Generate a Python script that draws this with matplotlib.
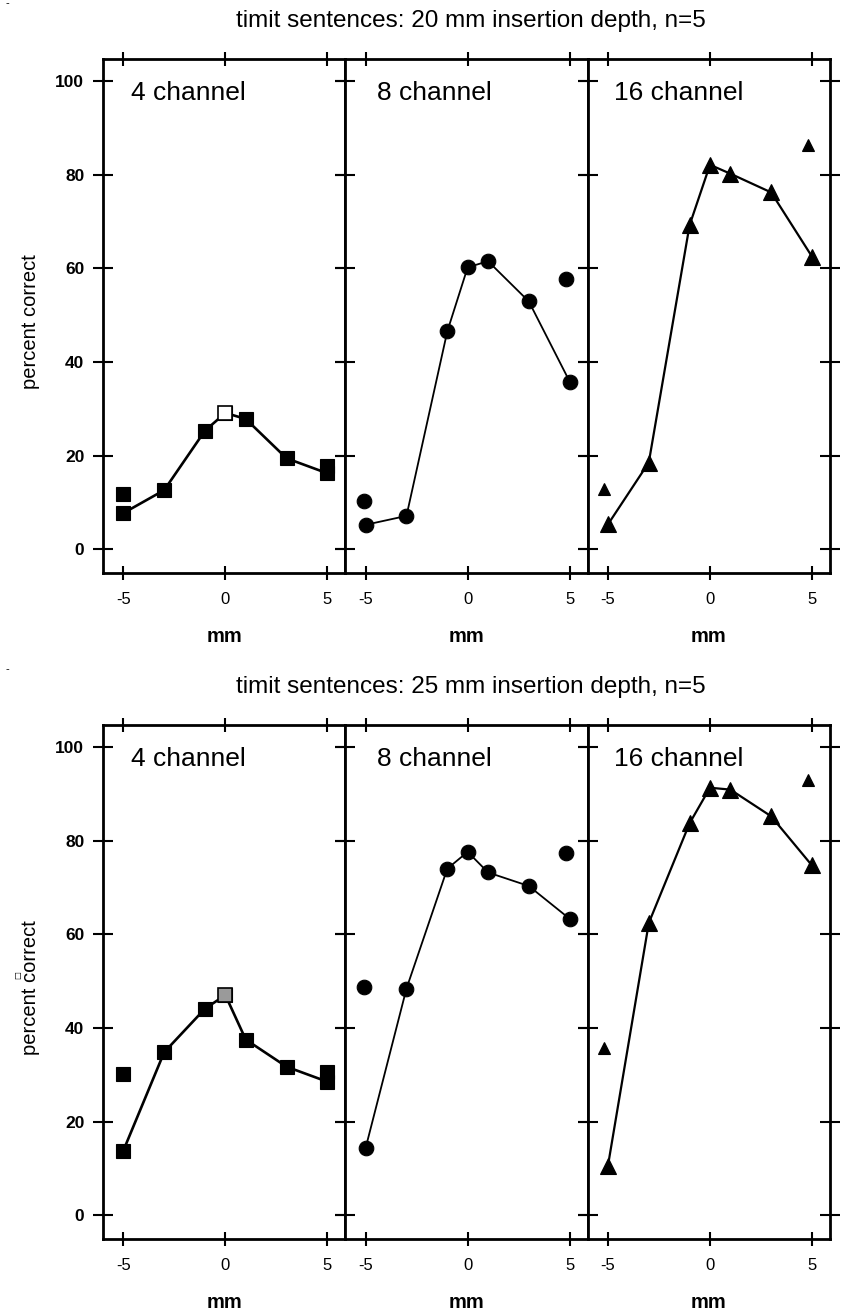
import matplotlib
matplotlib.use("Agg")
import matplotlib.pyplot as plt

plt.rcParams["font.family"] = ["Liberation Sans", "DejaVu Sans"]
plt.rcParams["axes.unicode_minus"] = False

channels = ["4 channel", "8 channel", "16 channel"]
shift_mm = [-5, -3, -1, 0, 1, 3, 5]

# timit sentences, 20 mm insertion depth (connected points)
d20_4ch = [7.7, 12.6, 25.3, 29.1, 27.8, 19.4, 16.2]
d20_8ch = [5.2, 7.1, 46.5, 60.2, 61.5, 52.9, 35.8]
d20_16ch = [5.3, 18.5, 69.2, 82.1, 80.2, 76.2, 62.5]
# unconnected points near the ends
d20_extra_x = [[-5.0, 5.0], [-5.1, 4.8], [-5.2, 4.8]]
d20_extra_y = [[11.8, 17.7], [10.3, 57.7], [12.9, 86.3]]

# timit sentences, 25 mm insertion depth
d25_4ch = [13.8, 34.8, 44.1, 47.0, 37.5, 31.7, 28.5]
d25_8ch = [14.4, 48.4, 74.0, 77.6, 73.2, 70.3, 63.3]
d25_16ch = [10.6, 62.4, 83.7, 91.3, 90.9, 85.2, 74.7]
d25_extra_x = [[-5.0, 5.0], [-5.1, 4.8], [-5.2, 4.8]]
d25_extra_y = [[30.2, 30.6], [48.8, 77.4], [35.6, 93.0]]

titles = ["timit sentences: 20 mm insertion depth, n=5",
          "timit sentences: 25 mm insertion depth, n=5"]

W, H = 841, 1315
markers = ["s", "o", "^"]
line_w = [1.9, 1.3, 1.6]
msize = [10, 10.5, 11]
extra_msize = [10, 10.5, 9]
label_x = [0.115, 0.13, 0.11]


def draw_block(fig, top_px, title, values, extra_x, extra_y, center_face):
    ax_h = 514
    ax_w = 242.3
    left_px = 103
    bottom = 1 - (top_px + ax_h) / H
    for i in range(3):
        ax = fig.add_axes([(left_px + i * ax_w) / W, bottom, ax_w / W, ax_h / H])
        ax.plot(shift_mm, values[i], "-", color="black", lw=line_w[i],
                marker=markers[i], ms=msize[i], mfc="black", mec="black", mew=0.8)
        ax.plot(extra_x[i], extra_y[i], linestyle="none", marker=markers[i],
                ms=extra_msize[i], mfc="black", mec="black", mew=0.8)
        if i == 0:
            # the 0 mm square is drawn with a different fill
            ax.plot(shift_mm[3], values[0][3], marker="s", ms=msize[0],
                    mfc=center_face, mec="black", mew=1.2, zorder=5)
        ax.set_xlim(-6.0, 5.88)
        ax.set_ylim(-5.1, 104.7)
        ax.set_xticks([-5, 0, 5])
        ax.set_yticks(range(0, 101, 20))
        ax.tick_params(axis="x", direction="inout", length=10, width=1.5,
                       top=True, bottom=True, labelsize=12, pad=9)
        ax.tick_params(axis="y", direction="inout", length=15, width=1.5,
                       left=True, right=True, labelleft=(i == 0),
                       labelsize=12.5, pad=6)
        for lbl in ax.get_yticklabels():
            lbl.set_fontweight("bold")
        for sp in ax.spines.values():
            sp.set_linewidth(2)
        ax.text(label_x[i], 0.92, channels[i], transform=ax.transAxes,
                fontsize=19, va="baseline", ha="left")
        ax.text(0.5, -64 / ax_h, "mm", transform=ax.transAxes, ha="center",
                va="center", fontsize=14.5, fontweight="bold")
    fig.text(471 / W, 1 - (top_px - 38) / H, title, ha="center", va="center",
             fontsize=17.5)
    fig.text(30 / W, 1 - (top_px + ax_h / 2 + 6) / H, "percent correct",
             rotation=90, ha="center", va="center", fontsize=14.5)
    fig.text(7 / W, 1 - (top_px - 56) / H, "-", ha="center", va="center",
             fontsize=8)


fig = plt.figure(figsize=(W / 100, H / 100), dpi=100)
draw_block(fig, 59, titles[0], [d20_4ch, d20_8ch, d20_16ch],
           d20_extra_x, d20_extra_y, "white")
draw_block(fig, 725, titles[1], [d25_4ch, d25_8ch, d25_16ch],
           d25_extra_x, d25_extra_y, "#9a9a9a")
# stray little box next to the second y label
fig.text(18 / W, 1 - 975 / H, "\u25a1", rotation=90, ha="center",
         va="center", fontsize=6, family=["DejaVu Sans"])
fig.savefig("out.png", dpi=100)
